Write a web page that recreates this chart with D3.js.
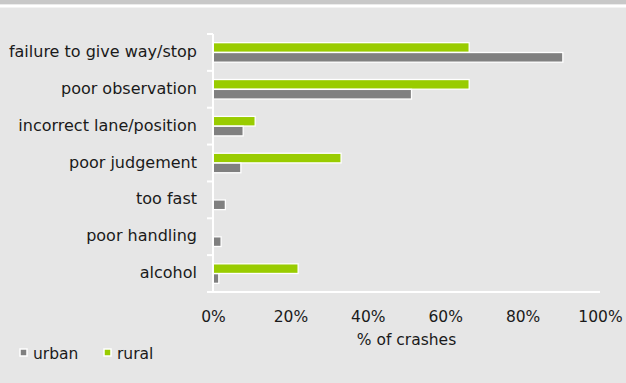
<!DOCTYPE html>
<html>
<head>
<meta charset="utf-8">
<script src="https://cdn.jsdelivr.net/npm/d3@7"></script>
<style>
  html, body { margin: 0; padding: 0; background: #e6e6e6; }
  svg { display: block; }
  text { font-family: "DejaVu Sans", Verdana, sans-serif; fill: #1a1a1a; }
</style>
</head>
<body>
<svg id="chart" width="626" height="383"></svg>
<script>
// Crash contributing factors by road environment (% of crashes)
const categories = [
  "failure to give way/stop",
  "poor observation",
  "incorrect lane/position",
  "poor judgement",
  "too fast",
  "poor handling",
  "alcohol"
];
const series = ["rural", "urban"];
const urban = [90.4, 51.3, 7.8, 7.2, 3.2, 2.1, 1.5];
const rural = [66.2, 66.2, 10.9, 33.1, 0, 0, 22.0];
const xTicks = [0, 20, 40, 60, 80, 100];
const colors = { urban: "#808080", rural: "#99cc00" };
const legendOrder = ["urban", "rural"];

const W = 626, H = 383;
const FS = 15.5;
const svg = d3.select("#chart");

// page background and top banner
svg.append("rect").attr("x", 0).attr("y", 0).attr("width", W).attr("height", H).attr("fill", "#e6e6e6");
svg.append("rect").attr("x", 0).attr("y", 0).attr("width", W).attr("height", 4.5).attr("fill", "#c8c8c8");
svg.append("rect").attr("x", 0).attr("y", 4.5).attr("width", W).attr("height", 3).attr("fill", "#ffffff");

const plot = { left: 213, right: 600, top: 34, bottom: 292 };

const x = d3.scaleLinear().domain([0, 100]).range([plot.left, plot.right]);
const y = d3.scaleBand().domain(categories).range([plot.top, plot.bottom])
  .paddingInner(0.46).paddingOuter(0.23);
const ySub = d3.scaleBand().domain(series).range([0, y.bandwidth()]).padding(0.02);

const rows = categories.map((c, i) => ({ cat: c, rural: rural[i], urban: urban[i] }));

// bars
const g = svg.append("g");
const groups = g.selectAll("g.row").data(rows).join("g")
  .attr("class", "row")
  .attr("transform", d => `translate(0,${y(d.cat)})`);
groups.selectAll("rect")
  .data(d => series.map(s => ({ s, v: d[s] })).filter(e => e.v > 0))
  .join("rect")
  .attr("x", x(0))
  .attr("y", e => ySub(e.s))
  .attr("width", e => x(e.v) - x(0))
  .attr("height", ySub.bandwidth())
  .attr("fill", e => colors[e.s])
  .attr("stroke", "#ffffff")
  .attr("stroke-width", 1.3);

// vertical category axis with ticks at band boundaries
const step = y.step();
const bounds = d3.range(categories.length + 1).map(i => plot.top + i * step);
svg.append("line")
  .attr("x1", plot.left).attr("x2", plot.left)
  .attr("y1", plot.top).attr("y2", plot.bottom)
  .attr("stroke", "#fff").attr("stroke-width", 2);
svg.selectAll("line.ytick").data(bounds).join("line")
  .attr("class", "ytick")
  .attr("x1", plot.left - 6).attr("x2", plot.left)
  .attr("y1", d => d).attr("y2", d => d)
  .attr("stroke", "#fff").attr("stroke-width", 2);

// horizontal value axis line
svg.append("line")
  .attr("x1", plot.left - 6).attr("x2", plot.right)
  .attr("y1", plot.bottom).attr("y2", plot.bottom)
  .attr("stroke", "#fff").attr("stroke-width", 2);

// category labels
svg.selectAll("text.cat").data(categories).join("text")
  .attr("class", "cat")
  .attr("x", 197)
  .attr("y", d => y(d) + y.bandwidth() / 2 - 1)
  .attr("dy", "0.35em")
  .attr("text-anchor", "end")
  .attr("font-size", 16)
  .text(d => d);

// value tick labels via d3 axis
const xAxis = d3.axisBottom(x).tickValues(xTicks).tickFormat(d => d + "%").tickSize(0).tickPadding(0);
const ax = svg.append("g").attr("transform", `translate(0,317)`).call(xAxis);
ax.select(".domain").remove();
ax.selectAll("text").attr("font-size", FS).attr("fill", "#1a1a1a").attr("dy", "0.35em")
  .attr("font-family", "DejaVu Sans, Verdana, sans-serif");

// axis title
svg.append("text")
  .attr("x", (plot.left + plot.right) / 2)
  .attr("y", 340)
  .attr("dy", "0.35em")
  .attr("text-anchor", "middle")
  .attr("font-size", FS)
  .text("% of crashes");

// legend
const legX = [20, 104];
const leg = svg.selectAll("g.leg").data(legendOrder).join("g")
  .attr("class", "leg")
  .attr("transform", (d, i) => `translate(${legX[i]},349)`);
leg.append("rect")
  .attr("x", 0).attr("y", 0).attr("width", 7).attr("height", 7)
  .attr("fill", d => colors[d]).attr("stroke", "#fff").attr("stroke-width", 1.5);
leg.append("text")
  .attr("x", 13).attr("y", 4.5).attr("dy", "0.35em")
  .attr("font-size", FS)
  .text(d => d);
</script>
</body>
</html>
